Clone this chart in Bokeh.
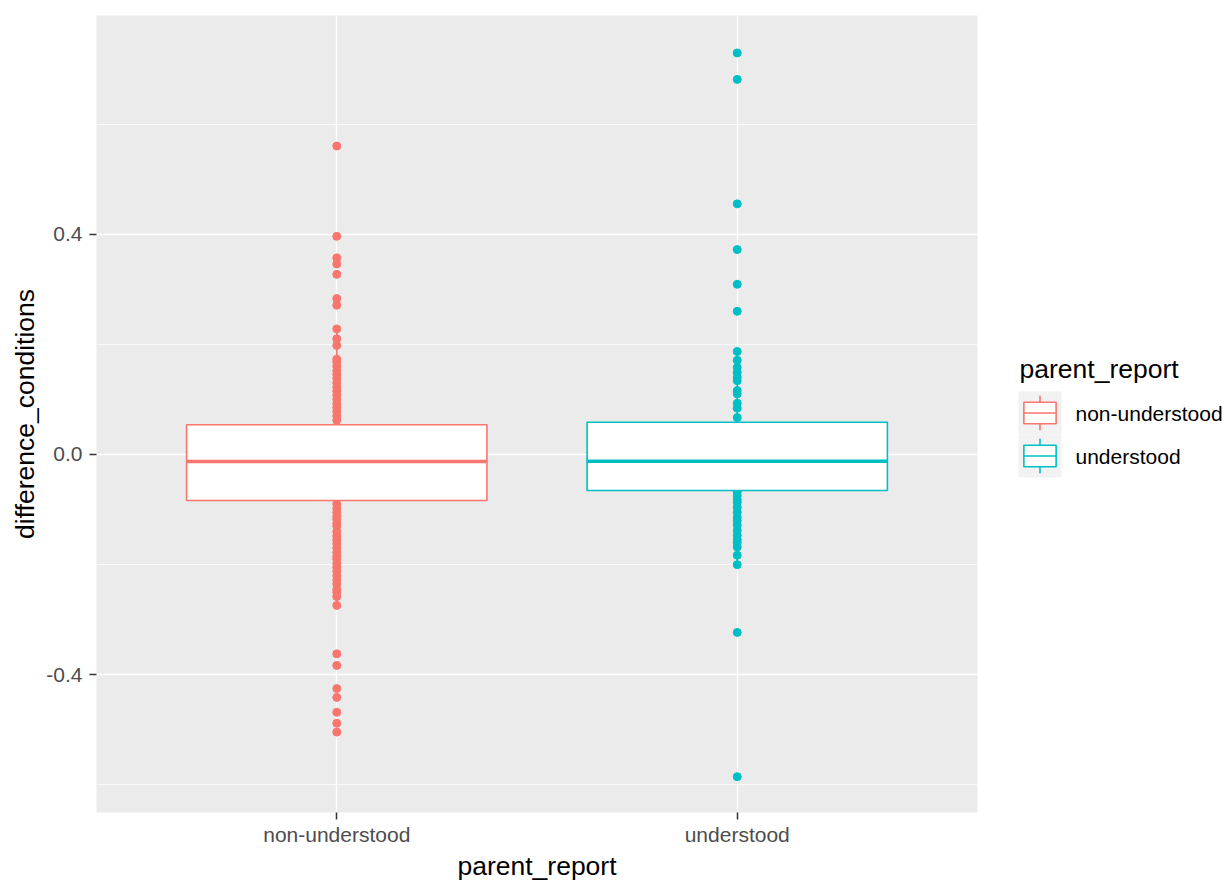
from bokeh.plotting import figure
from bokeh.models import Range1d, FactorRange, FixedTicker, ColumnDataSource
from bokeh.layouts import row
from bokeh.core.properties import value
from bokeh.embed import file_html
from bokeh.resources import INLINE

# ---------------- data ----------------
categories = ["non-understood", "understood"]
colors = ["#F8766D", "#00BFC4"]

# box statistics (q1, median, q3, lower whisker, upper whisker)
q1 = [-0.0835, -0.0654]
median = [-0.0127, -0.0122]
q3 = [0.054, 0.0586]
whisker_low = [-0.274, -0.200]
whisker_high = [0.228, 0.187]

# observed points per group
points_non_understood = [
    0.560, 0.396, 0.357, 0.346, 0.327, 0.283, 0.271, 0.228, 0.210, 0.198,
    0.173, 0.168, 0.160, 0.152, 0.145, 0.138, 0.130, 0.122, 0.115, 0.108,
    0.100, 0.092, 0.085, 0.078, 0.070, 0.062, 0.030, 0.010, -0.020, -0.050,
    -0.090, -0.098, -0.105, -0.112, -0.118, -0.125, -0.130, -0.140, -0.148,
    -0.155, -0.162, -0.170, -0.178, -0.185, -0.190, -0.198, -0.205, -0.212,
    -0.220, -0.228, -0.235, -0.245, -0.250, -0.258, -0.274,
    -0.362, -0.383, -0.425, -0.441, -0.468, -0.488, -0.504,
]
points_understood = [
    0.729, 0.681, 0.455, 0.372, 0.309, 0.260, 0.187, 0.171, 0.158, 0.149,
    0.140, 0.134, 0.116, 0.110, 0.093, 0.084, 0.067, 0.030, 0.000, -0.030,
    -0.068, -0.075, -0.082, -0.087, -0.096, -0.105, -0.114, -0.120, -0.128,
    -0.138, -0.147, -0.155, -0.160, -0.168, -0.183, -0.200, -0.323, -0.585,
]

y_ticks = [-0.4, 0.0, 0.4]
y_minor_ticks = [-0.6, -0.2, 0.2, 0.6]

FONT = "Liberation Sans"
LEFT, TOP, FW, FH, RIGHT, BOTTOM = 96, 15, 881, 797, 10, 68

# ---------------- main figure ----------------
p = figure(
    x_range=FactorRange(factors=categories, range_padding=0.1),
    y_range=Range1d(-0.650, 0.797),
    frame_width=FW, frame_height=FH,
    min_border_left=LEFT, min_border_right=RIGHT, min_border_top=TOP, min_border_bottom=BOTTOM,
    output_backend="svg", toolbar_location=None,
    background_fill_color="#EBEBEB", border_fill_color="white",
    outline_line_color=None,
)

# grid
p.xgrid.grid_line_color = "white"
p.xgrid.grid_line_width = 1.3
p.ygrid.grid_line_color = "white"
p.ygrid.grid_line_width = 1.3
p.ygrid.minor_grid_line_color = "white"
p.ygrid.minor_grid_line_width = 0.7

# axes
p.yaxis.ticker = FixedTicker(ticks=y_ticks, minor_ticks=y_minor_ticks)
p.yaxis.major_label_overrides = {v: f"{v:.1f}" for v in y_ticks}
for ax in (p.xaxis[0], p.yaxis[0]):
    ax.axis_line_color = None
    ax.major_tick_line_color = "#333333"
    ax.major_tick_line_width = 1.5
    ax.major_tick_in = 0
    ax.major_tick_out = 7
    ax.minor_tick_line_color = None
    ax.major_label_text_font = FONT
    ax.major_label_text_font_size = "21px"
    ax.major_label_text_color = "#4D4D4D"
    ax.axis_label_text_font = FONT
    ax.axis_label_text_font_size = "26.5px"
    ax.axis_label_text_font_style = "normal"
    ax.axis_label_text_color = "black"
p.xaxis.axis_label = "parent_report"
p.yaxis.axis_label = "difference_conditions"
p.xaxis.major_label_standoff = 3
p.xaxis.axis_label_standoff = 2
p.yaxis.major_label_standoff = 7
p.yaxis.axis_label_standoff = 3

# points
for cat, col, pts in zip(categories, colors, [points_non_understood, points_understood]):
    src = ColumnDataSource(dict(x=[cat] * len(pts), y=pts))
    p.scatter("x", "y", source=src, size=8, fill_color=col, line_color=col, line_width=1)

# whiskers
box_src = ColumnDataSource(dict(
    x=categories, q1=q1, q3=q3, med=median, lo=whisker_low, hi=whisker_high, color=colors,
    xl=[(c, -0.375) for c in categories], xr=[(c, 0.375) for c in categories],
))
p.segment(x0="x", y0="q3", x1="x", y1="hi", source=box_src, line_color="color", line_width=1.6)
p.segment(x0="x", y0="q1", x1="x", y1="lo", source=box_src, line_color="color", line_width=1.6)
# boxes
p.vbar(x="x", bottom="q1", top="q3", width=0.75, source=box_src,
       fill_color="white", line_color="color", line_width=1.6)
# medians
p.segment(x0="xl", y0="med", x1="xr", y1="med", source=box_src, line_color="color", line_width=3.6)

# ---------------- legend figure ----------------
# (row() aligns this frame with the main frame, so its y origin is the page y = TOP)
ox, oy = LEFT + FW + RIGHT, TOP
LW = 1223 - ox - 1
leg = figure(
    x_range=Range1d(0, LW), y_range=Range1d(FH, 0),
    frame_width=LW, frame_height=FH,
    min_border=0, output_backend="svg", toolbar_location=None,
    outline_line_color=None, background_fill_color="white", border_fill_color="white",
)
leg.axis.visible = False
leg.grid.visible = False

key_x0, key_x1 = 1018 - ox, 1061 - ox
key_top = 391 - oy
key_h = 43
leg.text(x=[1019 - ox], y=[368 - oy], text=["parent_report"], text_font=value(FONT),
         text_font_size="26.5px", text_baseline="middle", text_align="left", text_color="black")
for i, (cat, col) in enumerate(zip(categories, colors)):
    t = key_top + i * key_h
    leg.quad(left=[key_x0], right=[key_x1], top=[t], bottom=[t + key_h],
             fill_color="#F2F2F2", line_color=None)
    w = key_x1 - key_x0
    bx0, bx1 = key_x0 + 0.125 * w, key_x0 + 0.875 * w
    cx = (key_x0 + key_x1) / 2
    leg.segment(x0=[cx, cx], y0=[t + 0.1 * key_h, t + 0.75 * key_h],
                x1=[cx, cx], y1=[t + 0.25 * key_h, t + 0.9 * key_h],
                line_color=col, line_width=1.6)
    leg.quad(left=[bx0], right=[bx1], top=[t + 0.25 * key_h], bottom=[t + 0.75 * key_h],
             fill_color="white", line_color=col, line_width=1.6)
    leg.segment(x0=[bx0], y0=[t + 0.5 * key_h], x1=[bx1], y1=[t + 0.5 * key_h],
                line_color=col, line_width=1.6)
    leg.text(x=[1075 - ox], y=[t + key_h / 2], text=[cat], text_font=value(FONT),
             text_font_size="21px", text_baseline="middle", text_align="left", text_color="black")

layout = row(p, leg)
open("out.html", "w").write(file_html(layout, INLINE))
